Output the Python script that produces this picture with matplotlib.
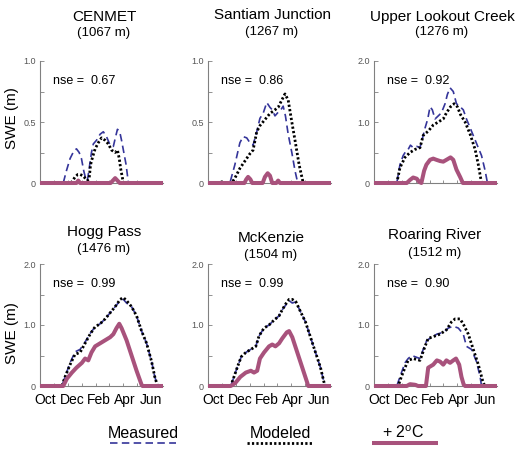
import numpy as np
import matplotlib
matplotlib.use('Agg')
import matplotlib.pyplot as plt
from matplotlib.lines import Line2D

plt.rcParams['font.family'] = ['Liberation Sans', 'DejaVu Sans']

# x values are days since Oct 1
sites = ['CENMET', 'Santiam Junction', 'Upper Lookout Creek',
         'Hogg Pass', 'McKenzie', 'Roaring River']
elevations = ['(1067 m)', '(1267 m)', '(1276 m)', '(1476 m)', '(1504 m)', '(1512 m)']
nse = ['0.67', '0.86', '0.92', '0.99', '0.99', '0.90']
ymax = [1.0, 1.0, 2.0, 2.0, 2.0, 2.0]
month_labels = ['Oct', 'Dec', 'Feb', 'Apr', 'Jun']
month_label_days = [12, 71, 130, 186, 243]
month_start_days = [31, 61, 92, 123, 151, 182, 212, 243]

# CENMET
cen_meas_d = [0, 51, 58, 66, 74, 80, 86, 91, 96, 100, 104, 108, 113, 117, 124, 132, 139, 146,
              154, 161, 166, 170, 175, 179, 184, 189, 194, 270]
cen_meas_v = [0, 0, 0.1, 0.2, 0.26, 0.28, 0.25, 0.2, 0.1, 0.04, 0.02, 0.12, 0.25, 0.32, 0.35,
              0.4, 0.42, 0.38, 0.31, 0.3, 0.38, 0.44, 0.42, 0.35, 0.25, 0.15, 0, 0]
cen_mod_d = [0, 68, 72, 77, 83, 88, 94, 99, 104, 108, 111, 116, 121, 128, 135, 143, 150, 157,
             165, 170, 174, 177, 183, 270]
cen_mod_v = [0, 0, 0.02, 0.05, 0.07, 0.07, 0.06, 0.04, 0.02, 0.04, 0.15, 0.22, 0.28, 0.33,
             0.37, 0.35, 0.32, 0.27, 0.25, 0.27, 0.2, 0.12, 0, 0]
cen_warm_d = [0, 80, 84, 88, 95, 155, 160, 165, 170, 175, 270]
cen_warm_v = [0, 0, 0.02, 0, 0, 0, 0.02, 0.04, 0.02, 0, 0]

# Santiam Junction
san_meas_d = [0, 48, 59, 70, 77, 85, 92, 99, 107, 114, 121, 129, 136, 141, 147, 154, 160, 165,
              170, 176, 184, 191, 197, 270]
san_meas_v = [0, 0, 0.15, 0.33, 0.38, 0.37, 0.33, 0.31, 0.42, 0.53, 0.57, 0.66, 0.62, 0.6,
              0.55, 0.58, 0.6, 0.63, 0.55, 0.4, 0.25, 0.1, 0, 0]
san_mod_d = [0, 27, 30, 33, 52, 59, 70, 81, 92, 99, 107, 114, 125, 136, 147, 154, 162, 169,
             176, 184, 191, 200, 209, 270]
san_mod_v = [0, 0, 0.01, 0, 0, 0.04, 0.12, 0.18, 0.24, 0.27, 0.42, 0.47, 0.52, 0.57, 0.6,
             0.62, 0.68, 0.73, 0.68, 0.5, 0.35, 0.15, 0, 0]
san_warm_d = [0, 80, 84, 88, 93, 97, 120, 125, 131, 136, 141, 150, 154, 158, 270]
san_warm_v = [0, 0, 0.03, 0.05, 0.03, 0, 0, 0.05, 0.08, 0.06, 0, 0, 0.02, 0, 0]

# Upper Lookout Creek
upl_meas_d = [0, 50, 57, 64, 70, 75, 80, 86, 94, 101, 107, 112, 118, 123, 128, 134, 141, 148,
              156, 161, 167, 174, 181, 189, 196, 203, 214, 225, 236, 244, 249, 270]
upl_meas_v = [0, 0, 0.3, 0.45, 0.52, 0.55, 0.62, 0.58, 0.6, 0.58, 0.75, 0.9, 1.05, 1.25, 1.2,
              1.05, 1.1, 1.15, 1.3, 1.45, 1.56, 1.5, 1.3, 1.25, 1.2, 1.05, 0.85, 0.65, 0.45,
              0.2, 0, 0]
upl_mod_d = [0, 50, 57, 68, 79, 90, 101, 108, 119, 130, 141, 152, 159, 168, 176, 183, 190,
             200, 211, 222, 229, 236, 270]
upl_mod_v = [0, 0, 0.25, 0.42, 0.5, 0.55, 0.58, 0.78, 0.85, 0.95, 1.0, 1.05, 1.15, 1.25, 1.3,
             1.25, 1.12, 1.0, 0.8, 0.55, 0.3, 0, 0]
upl_warm_d = [0, 72, 79, 86, 94, 99, 104, 110, 115, 123, 130, 137, 145, 152, 159, 168, 174,
              181, 189, 195, 270]
upl_warm_v = [0, 0, 0.05, 0.09, 0.07, 0.02, 0, 0.2, 0.3, 0.38, 0.4, 0.38, 0.36, 0.35, 0.38,
              0.42, 0.38, 0.22, 0.1, 0, 0]

# Hogg Pass
hog_meas_d = [0, 48, 55, 66, 77, 88, 99, 110, 121, 132, 143, 154, 165, 176, 183, 190, 201,
              212, 223, 234, 245, 252, 258, 270]
hog_meas_v = [0, 0, 0.15, 0.38, 0.56, 0.6, 0.72, 0.86, 0.97, 1.02, 1.1, 1.2, 1.3, 1.4, 1.42,
              1.36, 1.3, 1.15, 0.9, 0.7, 0.4, 0.15, 0, 0]
hog_mod_d = [0, 48, 55, 66, 77, 88, 99, 110, 121, 132, 143, 154, 165, 176, 183, 190, 201,
             212, 223, 234, 245, 252, 258, 270]
hog_mod_v = [0, 0, 0.15, 0.35, 0.52, 0.55, 0.7, 0.85, 0.97, 1.02, 1.1, 1.2, 1.3, 1.42, 1.45,
             1.4, 1.3, 1.15, 0.9, 0.7, 0.4, 0.15, 0, 0]
hog_warm_d = [0, 51, 59, 70, 80, 92, 99, 106, 113, 121, 132, 143, 154, 161, 168, 174, 179,
              190, 201, 212, 223, 225, 270]
hog_warm_v = [0, 0, 0.12, 0.22, 0.3, 0.38, 0.45, 0.42, 0.55, 0.65, 0.7, 0.75, 0.8, 0.85, 0.95,
              1.02, 0.95, 0.75, 0.5, 0.25, 0.02, 0, 0]

# McKenzie
mck_meas_d = [0, 50, 57, 64, 73, 83, 94, 105, 112, 123, 134, 145, 156, 163, 171, 178, 185,
              193, 203, 214, 225, 236, 247, 255, 257, 270]
mck_meas_v = [0, 0, 0.15, 0.3, 0.48, 0.55, 0.6, 0.65, 0.82, 0.95, 1.0, 1.08, 1.15, 1.25, 1.33,
              1.4, 1.36, 1.38, 1.22, 1.05, 0.8, 0.55, 0.3, 0.05, 0, 0]
mck_mod_d = [0, 50, 57, 64, 73, 83, 94, 105, 112, 123, 134, 145, 156, 163, 171, 178, 185,
             193, 203, 214, 225, 236, 247, 255, 257, 270]
mck_mod_v = [0, 0, 0.15, 0.3, 0.48, 0.55, 0.6, 0.65, 0.82, 0.95, 1.0, 1.08, 1.15, 1.25, 1.35,
             1.42, 1.42, 1.38, 1.22, 1.05, 0.8, 0.55, 0.3, 0.05, 0, 0]
mck_warm_d = [0, 50, 60, 71, 83, 94, 101, 108, 114, 123, 134, 141, 148, 156, 163, 173, 178,
              185, 196, 207, 218, 220, 270]
mck_warm_v = [0, 0, 0.05, 0.15, 0.22, 0.25, 0.22, 0.25, 0.45, 0.55, 0.65, 0.68, 0.65, 0.7,
              0.78, 0.88, 0.9, 0.8, 0.55, 0.3, 0.05, 0, 0]

# Roaring River
roa_meas_d = [0, 50, 57, 68, 75, 83, 90, 101, 108, 116, 127, 138, 152, 163, 174, 185, 196,
              203, 214, 225, 233, 236, 270]
roa_meas_v = [0, 0, 0.15, 0.38, 0.45, 0.5, 0.48, 0.45, 0.6, 0.75, 0.8, 0.85, 0.88, 0.95, 0.98,
              0.95, 0.85, 0.65, 0.6, 0.4, 0.15, 0, 0]
roa_mod_d = [0, 53, 60, 68, 75, 86, 101, 112, 119, 134, 145, 159, 170, 178, 189, 197, 207,
             218, 229, 238, 243, 270]
roa_mod_v = [0, 0, 0.15, 0.3, 0.42, 0.45, 0.42, 0.65, 0.78, 0.82, 0.85, 0.92, 1.05, 1.1, 1.1,
             1.0, 0.85, 0.6, 0.35, 0.1, 0, 0]
roa_warm_d = [0, 72, 79, 90, 97, 114, 119, 130, 138, 145, 152, 159, 167, 174, 180, 187, 192,
              197, 200, 270]
roa_warm_v = [0, 0, 0.03, 0.02, 0, 0, 0.3, 0.35, 0.42, 0.4, 0.35, 0.42, 0.38, 0.42, 0.45,
              0.35, 0.15, 0.02, 0, 0]

measured = [(cen_meas_d, cen_meas_v), (san_meas_d, san_meas_v), (upl_meas_d, upl_meas_v),
            (hog_meas_d, hog_meas_v), (mck_meas_d, mck_meas_v), (roa_meas_d, roa_meas_v)]
modeled = [(cen_mod_d, cen_mod_v), (san_mod_d, san_mod_v), (upl_mod_d, upl_mod_v),
           (hog_mod_d, hog_mod_v), (mck_mod_d, mck_mod_v), (roa_mod_d, roa_mod_v)]
warm = [(cen_warm_d, cen_warm_v), (san_warm_d, san_warm_v), (upl_warm_d, upl_warm_v),
        (hog_warm_d, hog_warm_v), (mck_warm_d, mck_warm_v), (roa_warm_d, roa_warm_v)]

BLUE = '#35359a'
PURPLE = '#a8527c'
GREY = '#808080'
W, H = 524.0, 453.0

meas_style = dict(color=BLUE, lw=1.2, ls=(0, (4.5, 2.6)))
mod_style = dict(color='black', lw=2.0, ls=(0, (0.8, 0.8)))
warm_style = dict(color=PURPLE, lw=2.9, solid_capstyle='butt')


def fx(px):
    return px / W


def fy(py):
    return 1 - py / H


fig = plt.figure(figsize=(5.24, 4.53), dpi=100)

lefts = [40, 208, 374, 40, 208, 374]
tops = [61, 61, 61, 264, 264, 264]
title_x = [104, 272, 442, 104, 271, 435]
title_y = [17, 15, 17, 232, 238, 235]
sub_y = [33, 32, 32, 249, 255, 253]

for i in range(6):
    ax = fig.add_axes([fx(lefts[i]), fy(tops[i] + 122), fx(123), 122 / H])
    ax.plot(*measured[i], zorder=2, **meas_style)
    ax.plot(*modeled[i], zorder=3, **mod_style)
    ax.plot(*warm[i], zorder=4, clip_on=False, **warm_style)
    ax.set_xlim(0, 270)
    ax.set_ylim(0, ymax[i])

    for s in ['top', 'right']:
        ax.spines[s].set_visible(False)
    for s in ['left', 'bottom']:
        ax.spines[s].set_color(GREY)
        ax.spines[s].set_linewidth(0.8)

    if ymax[i] == 1.0:
        ax.set_yticks([0, 0.5, 1.0])
        ax.set_yticklabels(['0', '0.5', '1.0'])
        ax.set_yticks([0.25, 0.75], minor=True)
    else:
        ax.set_yticks([0, 1.0, 2.0])
        ax.set_yticklabels(['0', '1.0', '2.0'])
        ax.set_yticks([0.5, 1.5], minor=True)
    ax.tick_params(axis='y', which='both', direction='in', length=3, width=0.6,
                   color=GREY, labelsize=6.5, labelcolor='#555555', pad=3)

    ax.set_xticks(month_start_days, minor=True)
    ax.set_xticks(month_label_days)
    if i >= 3:
        ax.set_xticklabels(month_labels)
    else:
        ax.set_xticklabels([])
    ax.tick_params(axis='x', which='major', length=0, labelsize=10, pad=5)
    ax.tick_params(axis='x', which='minor', direction='in', length=2.5, width=0.6,
                   color=GREY)

    ax.text(0.105, 0.84, 'nse =  ' + nse[i], transform=ax.transAxes,
            fontsize=9, va='center', ha='left')

    fig.text(fx(title_x[i]), fy(title_y[i]), sites[i], fontsize=11,
             ha='center', va='center')
    fig.text(fx(title_x[i]), fy(sub_y[i]), elevations[i], fontsize=9.5,
             ha='center', va='center')

fig.text(fx(12), fy(118), 'SWE (m)', rotation=90, fontsize=11, ha='center', va='center')
fig.text(fx(12), fy(333), 'SWE (m)', rotation=90, fontsize=11, ha='center', va='center')

# legend
legend_items = [('Measured', 143, 110, 176, meas_style),
                ('Modeled', 280, 247, 313, mod_style),
                (r'+ 2$^\mathregular{o}$C', 403, 372, 438, warm_style)]
for label, cx, x0, x1, style in legend_items:
    fig.text(fx(cx), fy(438), label, fontsize=11.5, ha='center', va='baseline')
    fig.add_artist(Line2D([fx(x0), fx(x1)], [fy(443), fy(443)],
                          transform=fig.transFigure, **style))

fig.savefig('out.png', dpi=100)
